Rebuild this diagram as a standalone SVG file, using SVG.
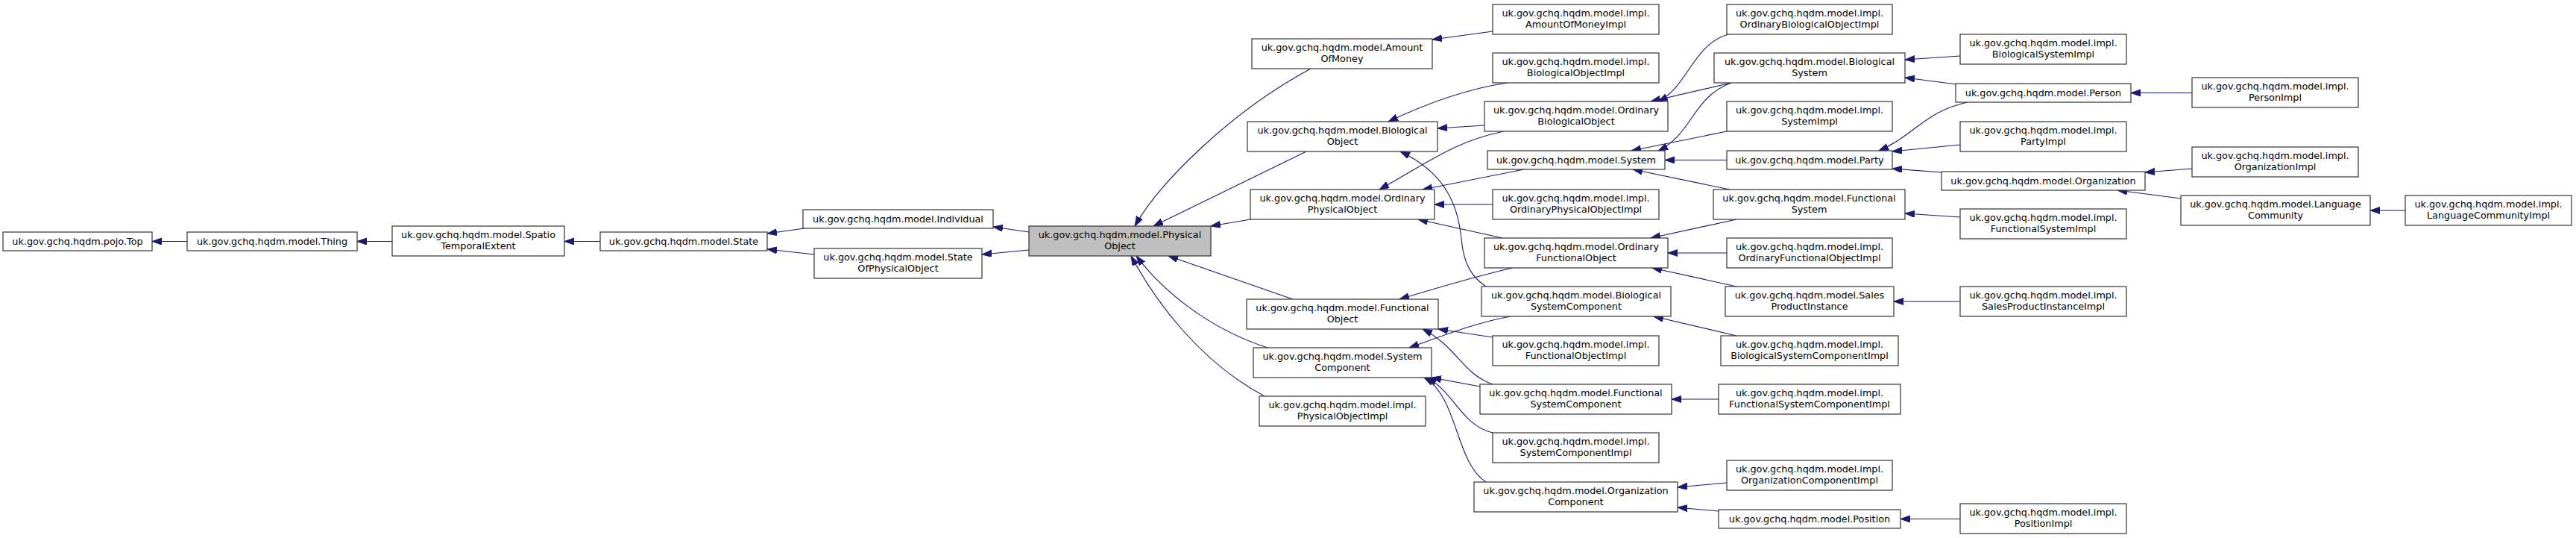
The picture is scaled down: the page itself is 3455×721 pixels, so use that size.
<svg xmlns="http://www.w3.org/2000/svg" width="3455" height="721" viewBox="0 0 3455 721">
<style>
.node rect{fill:#fff;stroke:#333;stroke-width:1.2}
.node.main rect{fill:#bfbfbf}
.node text{font-family:"DejaVu Sans","Liberation Sans",sans-serif;font-size:12.8px;text-anchor:middle;fill:#000}
.edge path{fill:none;stroke:#191970;stroke-width:1.1;marker-start:url(#ah)}
</style>
<defs>
<marker id="ah" markerWidth="14" markerHeight="10" refX="13" refY="4.5" orient="auto-start-reverse" markerUnits="userSpaceOnUse">
<path d="M0,0 L13,4.5 L0,9 z" fill="#191970" stroke="#191970" stroke-width="1"/>
</marker>
</defs>
<rect width="3455" height="721" fill="#fff"/>
<g id="edges" class="edge">
<path d="M204,323.5 L251,323.5"/>
<path d="M479,323.5 L526,323.5"/>
<path d="M757,323.5 L805,323.5"/>
<path d="M1029,313 L1079,306"/>
<path d="M1029,334 L1092,341"/>
<path d="M1332,304 L1380,311"/>
<path d="M1317,341 L1380,335"/>
<path d="M1522,303 C1555,245 1650,150 1758,92"/>
<path d="M1547,303 L1752,203"/>
<path d="M1624,303 L1677,294"/>
<path d="M1567,343 L1734,401"/>
<path d="M1524,343 C1560,390 1620,440 1700,466"/>
<path d="M1517,343 C1550,405 1610,485 1696,531"/>
<path d="M1921,53 L2002,42"/>
<path d="M1862,163 C1900,145 1960,120 2022,111"/>
<path d="M1928,172 L1991,168"/>
<path d="M1850,254 C1920,215 1950,190 2017,176"/>
<path d="M1878,203 C1935,230 1955,270 1960,320 C1963,355 1975,372 1993,384"/>
<path d="M1908,254 L2044,227"/>
<path d="M1924,274 L2002,274"/>
<path d="M1902,294 L2015,319"/>
<path d="M1877,401 C1920,388 1980,370 2029,359"/>
<path d="M1890,466 C1930,452 1980,432 2026,424"/>
<path d="M1929,441 L2002,452"/>
<path d="M1908,441 C1955,465 1960,500 2002,515"/>
<path d="M1920,506 L1985,518"/>
<path d="M1914,506 C1950,525 1960,570 2002,580"/>
<path d="M1910,506 C1955,530 1952,620 1993,646"/>
<path d="M2224,136 C2265,115 2270,60 2318,46"/>
<path d="M2214,136 L2322,111"/>
<path d="M2224,202 C2270,180 2270,130 2322,111"/>
<path d="M2188,202 L2316,176"/>
<path d="M2233,214.5 L2316,214.5"/>
<path d="M2190,227 L2320,254"/>
<path d="M2214,319 L2329,294"/>
<path d="M2237,339 L2316,339"/>
<path d="M2216,359 L2329,384"/>
<path d="M2218,424 L2329,450"/>
<path d="M2242,535 L2305,535"/>
<path d="M2250,653 L2316,647"/>
<path d="M2250,680 L2305,685"/>
<path d="M2555,80 L2629,75"/>
<path d="M2555,104 L2624,113"/>
<path d="M2520,202 C2570,180 2580,150 2639,137"/>
<path d="M2538,203 L2629,194"/>
<path d="M2538,226 L2604,231"/>
<path d="M2555,286 L2629,291"/>
<path d="M2540,404 L2629,404"/>
<path d="M2549,695.5 L2629,695.5"/>
<path d="M2858,124.5 L2940,124.5"/>
<path d="M2877,231 L2940,226"/>
<path d="M2840,255 L2925,266"/>
<path d="M3179,282 L3226,282"/>
</g>
<g id="n_top" class="node"><rect x="4" y="311" width="200" height="25"/><text x="104" y="327.5">uk.gov.gchq.hqdm.pojo.Top</text></g>
<g id="n_thing" class="node"><rect x="251" y="311" width="228" height="25"/><text x="365" y="327.5">uk.gov.gchq.hqdm.model.Thing</text></g>
<g id="n_ste" class="node"><rect x="526" y="303" width="231" height="40"/><text x="641.5"><tspan x="641.5" y="319">uk.gov.gchq.hqdm.model.Spatio</tspan><tspan x="641.5" y="333.5">TemporalExtent</tspan></text></g>
<g id="n_state" class="node"><rect x="805" y="311" width="224" height="25"/><text x="917" y="327.5">uk.gov.gchq.hqdm.model.State</text></g>
<g id="n_individual" class="node"><rect x="1077" y="281" width="255" height="25"/><text x="1204.5" y="297.5">uk.gov.gchq.hqdm.model.Individual</text></g>
<g id="n_sopo" class="node"><rect x="1092" y="333" width="225" height="40"/><text><tspan x="1204.5" y="349">uk.gov.gchq.hqdm.model.State</tspan><tspan x="1204.5" y="363.5">OfPhysicalObject</tspan></text></g>
<g id="n_po" class="node main"><rect x="1380" y="303" width="244" height="40"/><text><tspan x="1502" y="319">uk.gov.gchq.hqdm.model.Physical</tspan><tspan x="1502" y="333.5">Object</tspan></text></g>
<g id="n_aom" class="node"><rect x="1679" y="52" width="242" height="40"/><text><tspan x="1800" y="68">uk.gov.gchq.hqdm.model.Amount</tspan><tspan x="1800" y="82.5">OfMoney</tspan></text></g>
<g id="n_bo" class="node"><rect x="1673" y="163" width="255" height="40"/><text><tspan x="1800.5" y="179">uk.gov.gchq.hqdm.model.Biological</tspan><tspan x="1800.5" y="193.5">Object</tspan></text></g>
<g id="n_opo" class="node"><rect x="1677" y="254" width="247" height="40"/><text><tspan x="1800.5" y="270">uk.gov.gchq.hqdm.model.Ordinary</tspan><tspan x="1800.5" y="284.5">PhysicalObject</tspan></text></g>
<g id="n_fo" class="node"><rect x="1672" y="401" width="257" height="40"/><text><tspan x="1800.5" y="417">uk.gov.gchq.hqdm.model.Functional</tspan><tspan x="1800.5" y="431.5">Object</tspan></text></g>
<g id="n_sc" class="node"><rect x="1681" y="466" width="239" height="40"/><text><tspan x="1800.5" y="482">uk.gov.gchq.hqdm.model.System</tspan><tspan x="1800.5" y="496.5">Component</tspan></text></g>
<g id="n_poimpl" class="node"><rect x="1689" y="531" width="223" height="40"/><text><tspan x="1800.5" y="547">uk.gov.gchq.hqdm.model.impl.</tspan><tspan x="1800.5" y="561.5">PhysicalObjectImpl</tspan></text></g>
<g id="n_aomimpl" class="node"><rect x="2002" y="6" width="223" height="40"/><text><tspan x="2113.5" y="22">uk.gov.gchq.hqdm.model.impl.</tspan><tspan x="2113.5" y="36.5">AmountOfMoneyImpl</tspan></text></g>
<g id="n_boimpl" class="node"><rect x="2002" y="71" width="223" height="40"/><text><tspan x="2113.5" y="87">uk.gov.gchq.hqdm.model.impl.</tspan><tspan x="2113.5" y="101.5">BiologicalObjectImpl</tspan></text></g>
<g id="n_obo" class="node"><rect x="1991" y="136" width="246" height="40"/><text><tspan x="2114" y="152">uk.gov.gchq.hqdm.model.Ordinary</tspan><tspan x="2114" y="166.5">BiologicalObject</tspan></text></g>
<g id="n_system" class="node"><rect x="1995" y="202" width="238" height="25"/><text x="2114" y="218.5">uk.gov.gchq.hqdm.model.System</text></g>
<g id="n_opoimpl" class="node"><rect x="2002" y="254" width="223" height="40"/><text><tspan x="2113.5" y="270">uk.gov.gchq.hqdm.model.impl.</tspan><tspan x="2113.5" y="284.5">OrdinaryPhysicalObjectImpl</tspan></text></g>
<g id="n_ofo" class="node"><rect x="1991" y="319" width="246" height="40"/><text><tspan x="2114" y="335">uk.gov.gchq.hqdm.model.Ordinary</tspan><tspan x="2114" y="349.5">FunctionalObject</tspan></text></g>
<g id="n_bsc" class="node"><rect x="1987" y="384" width="254" height="40"/><text><tspan x="2114" y="400">uk.gov.gchq.hqdm.model.Biological</tspan><tspan x="2114" y="414.5">SystemComponent</tspan></text></g>
<g id="n_foimpl" class="node"><rect x="2002" y="450" width="223" height="40"/><text><tspan x="2113.5" y="466">uk.gov.gchq.hqdm.model.impl.</tspan><tspan x="2113.5" y="480.5">FunctionalObjectImpl</tspan></text></g>
<g id="n_fsc" class="node"><rect x="1985" y="515" width="257" height="40"/><text><tspan x="2113.5" y="531">uk.gov.gchq.hqdm.model.Functional</tspan><tspan x="2113.5" y="545.5">SystemComponent</tspan></text></g>
<g id="n_scimpl" class="node"><rect x="2002" y="580" width="223" height="40"/><text><tspan x="2113.5" y="596">uk.gov.gchq.hqdm.model.impl.</tspan><tspan x="2113.5" y="610.5">SystemComponentImpl</tspan></text></g>
<g id="n_oc" class="node"><rect x="1977" y="646" width="273" height="40"/><text><tspan x="2113.5" y="662">uk.gov.gchq.hqdm.model.Organization</tspan><tspan x="2113.5" y="676.5">Component</tspan></text></g>
<g id="n_oboimpl" class="node"><rect x="2316" y="6" width="222" height="40"/><text><tspan x="2427" y="22">uk.gov.gchq.hqdm.model.impl.</tspan><tspan x="2427" y="36.5">OrdinaryBiologicalObjectImpl</tspan></text></g>
<g id="n_bs" class="node"><rect x="2299" y="71" width="256" height="40"/><text><tspan x="2427" y="87">uk.gov.gchq.hqdm.model.Biological</tspan><tspan x="2427" y="101.5">System</tspan></text></g>
<g id="n_systemimpl" class="node"><rect x="2316" y="136" width="222" height="40"/><text><tspan x="2427" y="152">uk.gov.gchq.hqdm.model.impl.</tspan><tspan x="2427" y="166.5">SystemImpl</tspan></text></g>
<g id="n_party" class="node"><rect x="2316" y="202" width="222" height="25"/><text x="2427" y="218.5">uk.gov.gchq.hqdm.model.Party</text></g>
<g id="n_fs" class="node"><rect x="2298" y="254" width="257" height="40"/><text><tspan x="2426.5" y="270">uk.gov.gchq.hqdm.model.Functional</tspan><tspan x="2426.5" y="284.5">System</tspan></text></g>
<g id="n_ofoimpl" class="node"><rect x="2316" y="319" width="222" height="40"/><text><tspan x="2427" y="335">uk.gov.gchq.hqdm.model.impl.</tspan><tspan x="2427" y="349.5">OrdinaryFunctionalObjectImpl</tspan></text></g>
<g id="n_spi" class="node"><rect x="2314" y="384" width="226" height="40"/><text><tspan x="2427" y="400">uk.gov.gchq.hqdm.model.Sales</tspan><tspan x="2427" y="414.5">ProductInstance</tspan></text></g>
<g id="n_bscimpl" class="node"><rect x="2308" y="450" width="238" height="40"/><text><tspan x="2427" y="466">uk.gov.gchq.hqdm.model.impl.</tspan><tspan x="2427" y="480.5">BiologicalSystemComponentImpl</tspan></text></g>
<g id="n_fscimpl" class="node"><rect x="2305" y="515" width="244" height="40"/><text><tspan x="2427" y="531">uk.gov.gchq.hqdm.model.impl.</tspan><tspan x="2427" y="545.5">FunctionalSystemComponentImpl</tspan></text></g>
<g id="n_ocimpl" class="node"><rect x="2316" y="617" width="222" height="40"/><text><tspan x="2427" y="633">uk.gov.gchq.hqdm.model.impl.</tspan><tspan x="2427" y="647.5">OrganizationComponentImpl</tspan></text></g>
<g id="n_position" class="node"><rect x="2305" y="683" width="244" height="25"/><text x="2427" y="699.5">uk.gov.gchq.hqdm.model.Position</text></g>
<g id="n_bsimpl" class="node"><rect x="2629" y="46" width="223" height="40"/><text><tspan x="2740.5" y="62">uk.gov.gchq.hqdm.model.impl.</tspan><tspan x="2740.5" y="76.5">BiologicalSystemImpl</tspan></text></g>
<g id="n_person" class="node"><rect x="2623" y="112" width="235" height="25"/><text x="2740.5" y="128.5">uk.gov.gchq.hqdm.model.Person</text></g>
<g id="n_partyimpl" class="node"><rect x="2629" y="163" width="223" height="40"/><text><tspan x="2740.5" y="179">uk.gov.gchq.hqdm.model.impl.</tspan><tspan x="2740.5" y="193.5">PartyImpl</tspan></text></g>
<g id="n_org" class="node"><rect x="2604" y="230" width="273" height="25"/><text x="2740.5" y="246.5">uk.gov.gchq.hqdm.model.Organization</text></g>
<g id="n_fsimpl" class="node"><rect x="2629" y="280" width="223" height="40"/><text><tspan x="2740.5" y="296">uk.gov.gchq.hqdm.model.impl.</tspan><tspan x="2740.5" y="310.5">FunctionalSystemImpl</tspan></text></g>
<g id="n_spiimpl" class="node"><rect x="2629" y="384" width="223" height="40"/><text><tspan x="2740.5" y="400">uk.gov.gchq.hqdm.model.impl.</tspan><tspan x="2740.5" y="414.5">SalesProductInstanceImpl</tspan></text></g>
<g id="n_positionimpl" class="node"><rect x="2629" y="675" width="223" height="40"/><text><tspan x="2740.5" y="691">uk.gov.gchq.hqdm.model.impl.</tspan><tspan x="2740.5" y="705.5">PositionImpl</tspan></text></g>
<g id="n_personimpl" class="node"><rect x="2940" y="104" width="223" height="40"/><text><tspan x="3051.5" y="120">uk.gov.gchq.hqdm.model.impl.</tspan><tspan x="3051.5" y="134.5">PersonImpl</tspan></text></g>
<g id="n_orgimpl" class="node"><rect x="2940" y="197" width="223" height="40"/><text><tspan x="3051.5" y="213">uk.gov.gchq.hqdm.model.impl.</tspan><tspan x="3051.5" y="227.5">OrganizationImpl</tspan></text></g>
<g id="n_lc" class="node"><rect x="2925" y="262" width="254" height="40"/><text><tspan x="3052" y="278">uk.gov.gchq.hqdm.model.Language</tspan><tspan x="3052" y="292.5">Community</tspan></text></g>
<g id="n_lcimpl" class="node"><rect x="3226" y="262" width="223" height="40"/><text><tspan x="3337.5" y="278">uk.gov.gchq.hqdm.model.impl.</tspan><tspan x="3337.5" y="292.5">LanguageCommunityImpl</tspan></text></g>
</svg>
